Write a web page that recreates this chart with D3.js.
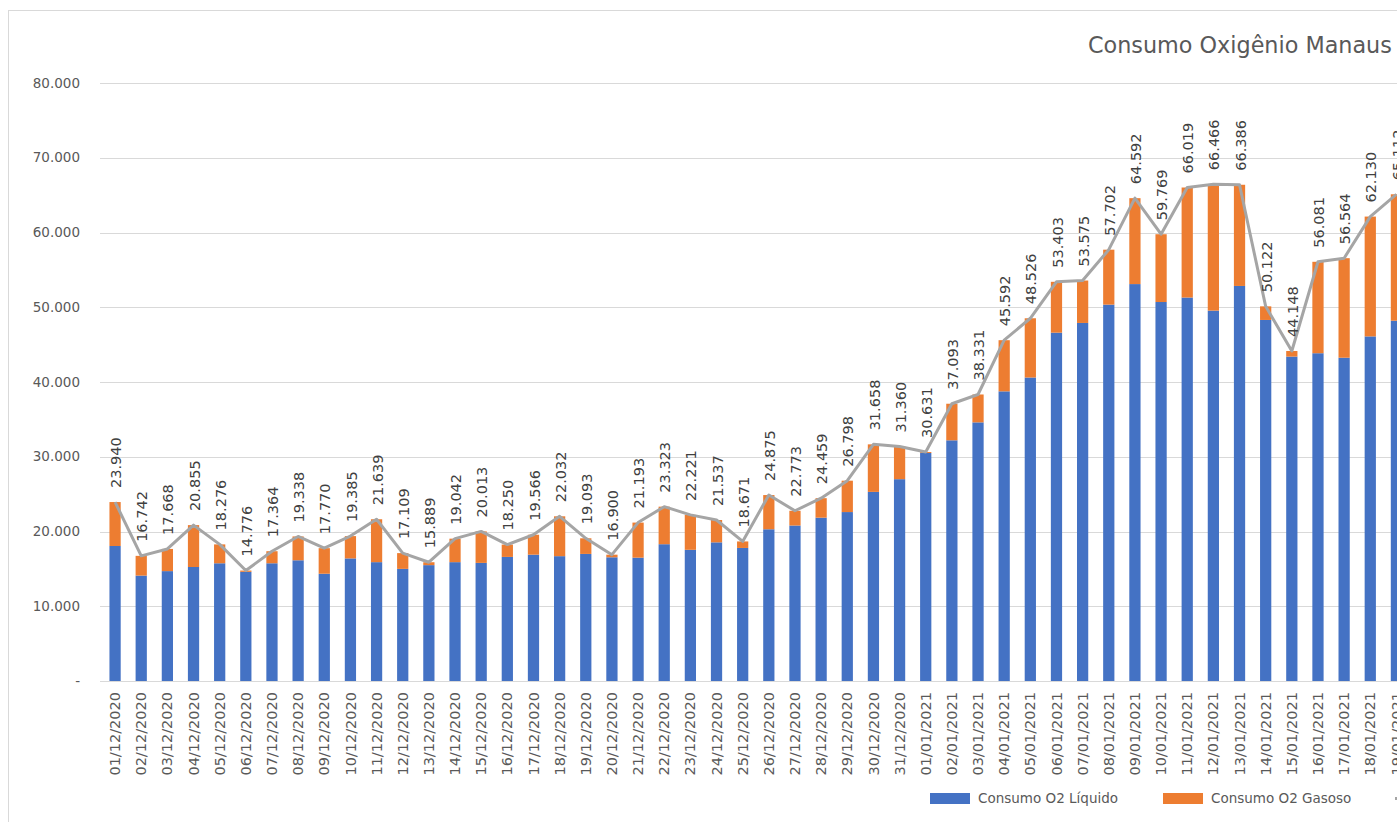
<!DOCTYPE html>
<html>
<head>
<meta charset="utf-8">
<script src="https://cdn.jsdelivr.net/npm/d3@7"></script>
<style>
  body { margin: 0; background: #fff; overflow: hidden; }
  #chart { width: 1397px; height: 822px; }
  text { font-family: "DejaVu Sans", sans-serif; }
</style>
</head>
<body>
<div id="chart"></div>
<script>
// days shown on the x axis (chart is cropped at 19/01/2021)
const dias = [
  "01/12/2020","02/12/2020","03/12/2020","04/12/2020","05/12/2020","06/12/2020","07/12/2020","08/12/2020",
  "09/12/2020","10/12/2020","11/12/2020","12/12/2020","13/12/2020","14/12/2020","15/12/2020","16/12/2020",
  "17/12/2020","18/12/2020","19/12/2020","20/12/2020","21/12/2020","22/12/2020","23/12/2020","24/12/2020",
  "25/12/2020","26/12/2020","27/12/2020","28/12/2020","29/12/2020","30/12/2020","31/12/2020",
  "01/01/2021","02/01/2021","03/01/2021","04/01/2021","05/01/2021","06/01/2021","07/01/2021","08/01/2021",
  "09/01/2021","10/01/2021","11/01/2021","12/01/2021","13/01/2021","14/01/2021","15/01/2021","16/01/2021",
  "17/01/2021","18/01/2021","19/01/2021"
];

// Consumo O2 Líquido (blue)
const liquido = [
  18060,14100,14700,15250,15750,14600,15750,16150,14350,16400,15900,15000,15500,15900,15800,16600,
  16900,16700,17000,16550,16500,18300,17550,18550,17800,20300,20800,21850,22600,25300,27000,
  30500,32200,34600,38750,40600,46600,47900,50350,53100,50700,51300,49550,52850,48300,43400,43850,
  43250,46100,48200
];

// Consumo O2 Gasoso (orange)
const gasoso = [
  5880,2642,2968,5605,2526,176,1614,3188,3420,2985,5739,2109,389,3142,4213,1650,
  2666,5332,2093,350,4693,5023,4671,2987,871,4575,1973,2609,4198,6358,4360,
  131,4893,3731,6842,7926,6803,5675,7352,11492,9069,14719,16916,13536,1822,748,12231,
  13314,16030,16912
];

// total consumption (grey line + labels)
const total = [
  23940,16742,17668,20855,18276,14776,17364,19338,17770,19385,21639,17109,15889,19042,20013,18250,
  19566,22032,19093,16900,21193,23323,22221,21537,18671,24875,22773,24459,26798,31658,31360,
  30631,37093,38331,45592,48526,53403,53575,57702,64592,59769,66019,66466,66386,50122,44148,56081,
  56564,62130,65112
];

const yTicks = [0, 10000, 20000, 30000, 40000, 50000, 60000, 70000, 80000];

const azul = "#4472C4", laranja = "#ED7D31", cinza = "#A5A5A5";

let width = 1397, height = 822;
let svg = d3.select("#chart").append("svg")
    .attr("width", width)
    .attr("height", height);

// chart frame (right side cut off)
svg.append("rect")
    .attr("x", 8.5).attr("y", 10.5)
    .attr("width", 1500).attr("height", 900)
    .attr("fill", "none")
    .attr("stroke", "#d9d9d9");

let br = d3.formatLocale({decimal: ",", thousands: ".", grouping: [3], currency: ["R$", ""]});
let fmt = br.format(",.0f");

let x = d3.scaleBand()
    .domain(dias)
    .range([102, 102 + dias.length * 26.15])
    .paddingInner(0.57)
    .paddingOuter(0.285);

let y = d3.scaleLinear()
    .domain([0, 80000])
    .range([681, 83]);

// gridlines
svg.append("g").selectAll("line")
    .data(yTicks)
    .join("line")
    .attr("x1", 100).attr("x2", width)
    .attr("y1", d => Math.round(y(d)) + 0.5)
    .attr("y2", d => Math.round(y(d)) + 0.5)
    .attr("stroke", "#d9d9d9")
    .attr("stroke-width", 1.2);

// y labels
svg.append("g").selectAll("text")
    .data(yTicks)
    .join("text")
    .attr("x", 80)
    .attr("y", d => y(d))
    .attr("dy", "0.35em")
    .attr("text-anchor", "end")
    .attr("fill", "#595959")
    .style("font-size", "13.5px")
    .text(d => d === 0 ? "-" : fmt(d));

// stacked bars
let series = d3.stack().keys(["liquido", "gasoso"])(
    dias.map((d, i) => ({dia: d, liquido: liquido[i], gasoso: gasoso[i]}))
);
let cores = [azul, laranja];

svg.append("g").selectAll("g")
    .data(series)
    .join("g")
    .attr("fill", (d, i) => cores[i])
    .selectAll("rect")
    .data(d => d)
    .join("rect")
    .attr("x", d => x(d.data.dia))
    .attr("y", d => y(d[1]))
    .attr("height", d => y(d[0]) - y(d[1]))
    .attr("width", x.bandwidth());

// total line
let cx = (d, i) => x(dias[i]) + x.bandwidth() / 2;
let line = d3.line()
    .x((d, i) => cx(d, i))
    .y(d => y(d));

svg.append("path")
    .datum(total)
    .attr("d", line)
    .attr("fill", "none")
    .attr("stroke", cinza)
    .attr("stroke-width", 3)
    .attr("stroke-linejoin", "round");

// data labels
svg.append("g").selectAll("text")
    .data(total)
    .join("text")
    .attr("transform", (d, i) => `translate(${cx(d, i) + 1}, ${y(d) - 14}) rotate(-90)`)
    .attr("dy", "0.35em")
    .attr("text-anchor", "start")
    .attr("fill", "#404040")
    .style("font-size", "14.5px")
    .text(d => fmt(d));

// x axis line
svg.append("line")
    .attr("x1", 100).attr("x2", width)
    .attr("y1", 681.5).attr("y2", 681.5)
    .attr("stroke", "#d9d9d9")
    .attr("stroke-width", 1.2);

// x labels
svg.append("g").selectAll("text")
    .data(dias)
    .join("text")
    .attr("transform", d => `translate(${x(d) + x.bandwidth() / 2}, 692) rotate(-90)`)
    .attr("dy", "0.35em")
    .attr("text-anchor", "end")
    .attr("fill", "#595959")
    .style("font-size", "14.5px")
    .text(d => d);

// title
svg.append("text")
    .attr("x", 1088)
    .attr("y", 53)
    .attr("fill", "#595959")
    .style("font-size", "22.3px")
    .text("Consumo Oxigênio Manaus");

// legend
let legenda = [
    {nome: "Consumo O2 Líquido", cor: azul, x: 930},
    {nome: "Consumo O2 Gasoso", cor: laranja, x: 1163}
];
let lg = svg.append("g").selectAll("g")
    .data(legenda)
    .join("g")
    .attr("transform", d => `translate(${d.x}, 793)`);
lg.append("rect")
    .attr("width", 40).attr("height", 11)
    .attr("fill", d => d.cor);
lg.append("text")
    .attr("x", 48).attr("y", 5.5)
    .attr("dy", "0.35em")
    .attr("fill", "#595959")
    .style("font-size", "13.5px")
    .text(d => d.nome);

// third legend entry (line series), cut off at the edge
svg.append("line")
    .attr("x1", 1395).attr("x2", 1435)
    .attr("y1", 798.5).attr("y2", 798.5)
    .attr("stroke", cinza)
    .attr("stroke-width", 3);
</script>
</body>
</html>
